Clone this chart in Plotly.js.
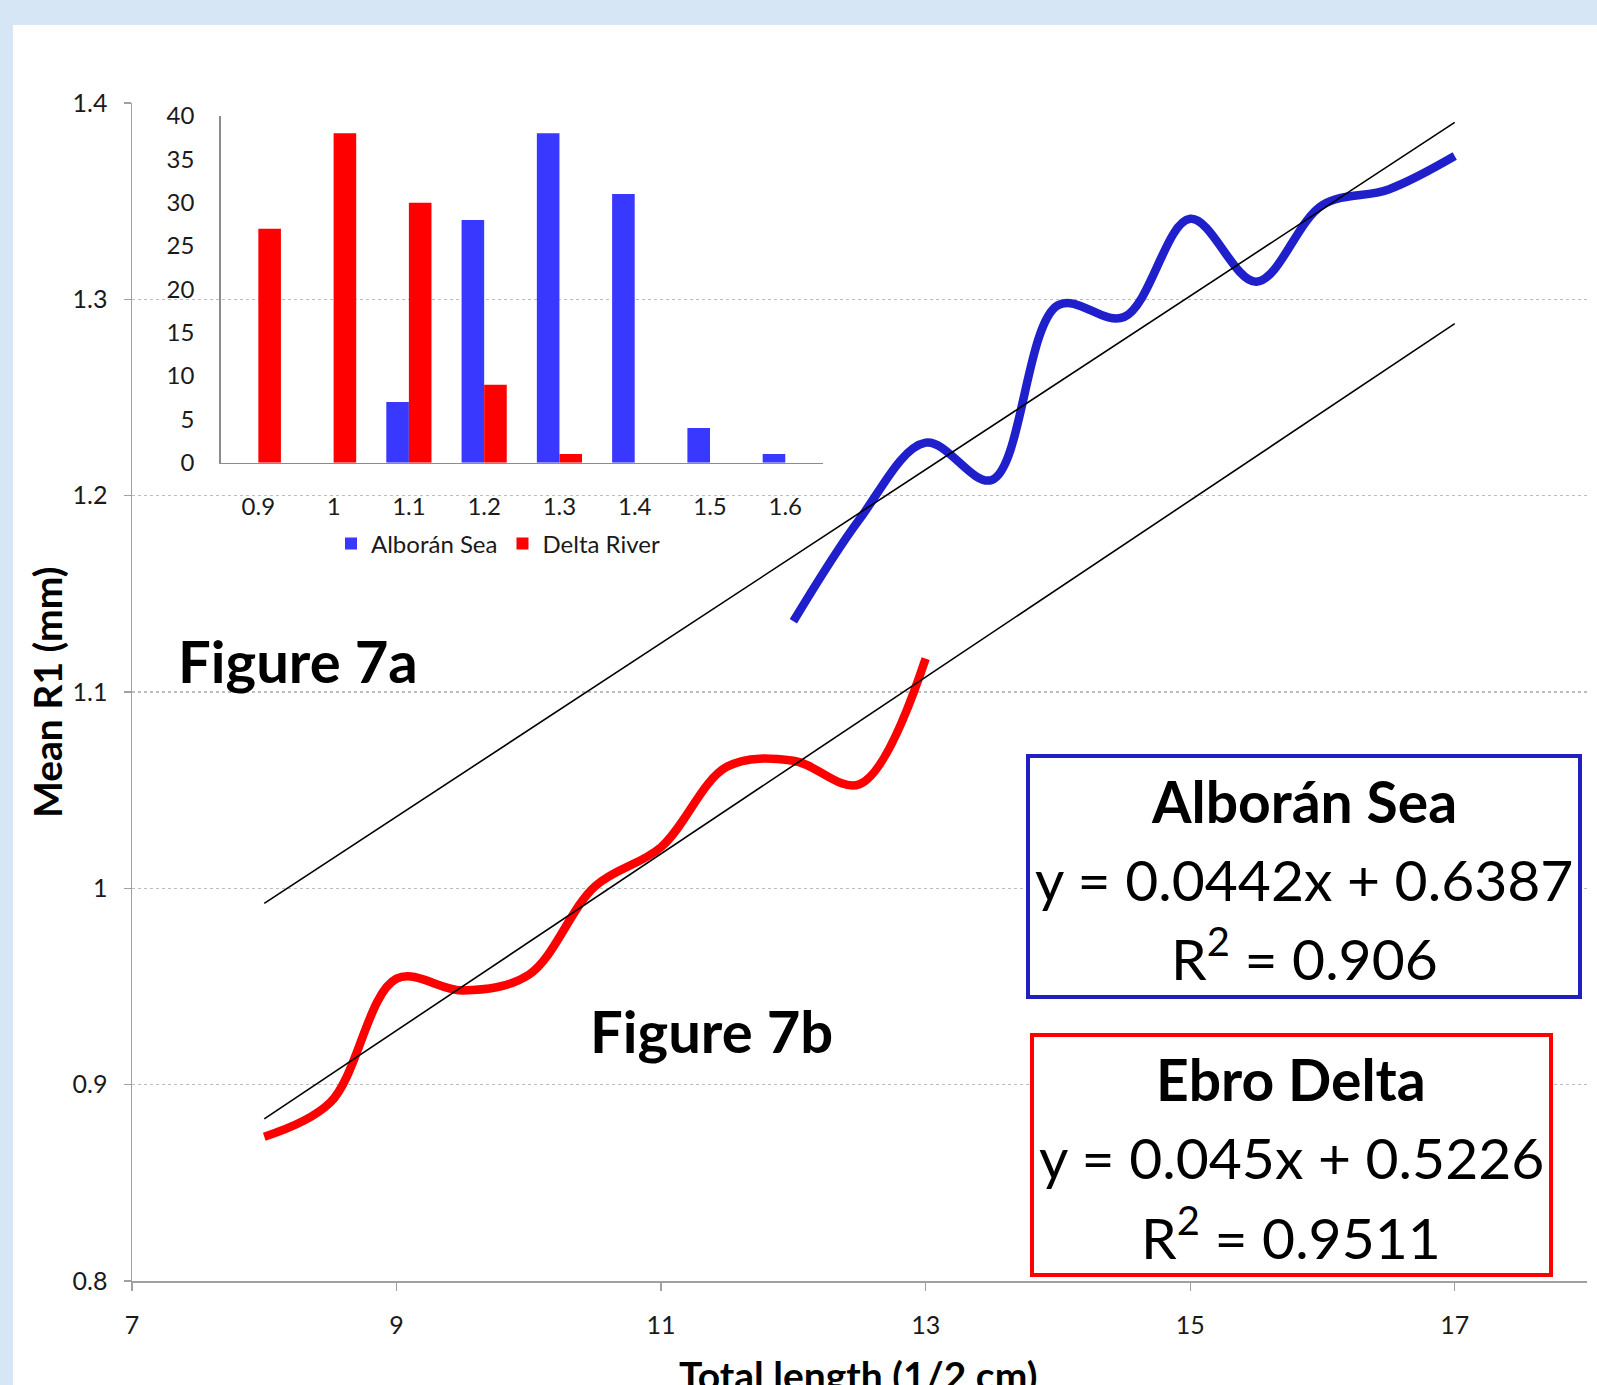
<!DOCTYPE html>
<html>
<head>
<meta charset="utf-8">
<script src="https://cdn.plot.ly/plotly-3.0.1.min.js"></script>
<style>
  html, body { margin: 0; padding: 0; }
  body { width: 1597px; height: 1385px; background: #d6e6f4; position: relative; overflow: hidden; }
  #panel { position: absolute; left: 13px; top: 25px; right: 0; bottom: 0; background: #ffffff; }
  #chart { position: absolute; left: 0; top: 0; width: 1597px; height: 1385px; }
</style>
</head>
<body>
<div id="panel"></div>
<div id="chart"></div>
<script>
// ---- Main chart data (Mean R1 vs total length) ----
const albCurveX = [12, 12.5, 13, 13.5, 14, 14.5, 15, 15.5, 16, 16.5, 17];
const albCurveY = [1.136, 1.188, 1.227, 1.208, 1.297, 1.291, 1.341, 1.309, 1.348, 1.356, 1.373];
const ebroCurveX = [8, 8.5, 9, 9.5, 10, 10.5, 11, 11.5, 12, 12.5, 13];
const ebroCurveY = [0.8735, 0.891, 0.954, 0.948, 0.956, 1.001, 1.021, 1.062, 1.065, 1.053, 1.117];

// Trendline end points
const trendX = [8, 17];
const albTrendY = [0.9923, 1.3901];
const ebroTrendY = [0.8826, 1.2876];

const xTicks = [7, 9, 11, 13, 15, 17];
const yTicks = [0.8, 0.9, 1.0, 1.1, 1.2, 1.3, 1.4];
const yTickText = ['0.8', '0.9', '1', '1.1', '1.2', '1.3', '1.4'];

// ---- Inset histogram data ----
const insetCats = ['0.9', '1', '1.1', '1.2', '1.3', '1.4', '1.5', '1.6'];
const albCounts = [0, 0, 7, 28, 38, 31, 4, 1];
const deltaCounts = [27, 38, 30, 9, 1, 0, 0, 0];
const insetYTicks = [0, 5, 10, 15, 20, 25, 30, 35, 40];

// ---- Text ----
const albName = 'Alborán Sea';
const albEq = 'y = 0.0442x + 0.6387';
const albR2 = 'R<sup>2</sup> = 0.906';
const ebroName = 'Ebro Delta';
const ebroEq = 'y = 0.045x + 0.5226';
const ebroR2 = 'R<sup>2</sup> = 0.9511';

const FONT = 'Lato, "Open Sans", sans-serif';

// geometry helpers: pixel -> paper (plot area: x 132..1587, y 103..1281)
const L = 132, R = 1587, T = 103, B = 1281;
const px = v => (v - L) / (R - L);
const py = v => (B - v) / (B - T);

const traces = [
  {
    type: 'scatter', mode: 'lines', x: ebroCurveX, y: ebroCurveY,
    line: {color: '#ff0000', width: 8.5, shape: 'spline', smoothing: 1},
    showlegend: false, xaxis: 'x', yaxis: 'y', hoverinfo: 'skip'
  },
  {
    type: 'scatter', mode: 'lines', x: albCurveX, y: albCurveY,
    line: {color: '#1f1fcc', width: 8.5, shape: 'spline', smoothing: 1},
    showlegend: false, xaxis: 'x', yaxis: 'y', hoverinfo: 'skip'
  },
  {
    type: 'scatter', mode: 'lines', x: trendX, y: albTrendY,
    line: {color: '#000000', width: 1.6},
    showlegend: false, xaxis: 'x', yaxis: 'y', hoverinfo: 'skip'
  },
  {
    type: 'scatter', mode: 'lines', x: trendX, y: ebroTrendY,
    line: {color: '#000000', width: 1.6},
    showlegend: false, xaxis: 'x', yaxis: 'y', hoverinfo: 'skip'
  },
  {
    type: 'bar', name: 'Alborán Sea', x: insetCats, y: albCounts,
    marker: {color: '#3838ff', line: {width: 0}},
    xaxis: 'x2', yaxis: 'y2'
  },
  {
    type: 'bar', name: 'Delta River', x: insetCats, y: deltaCounts,
    marker: {color: '#ff0000', line: {width: 0}},
    xaxis: 'x2', yaxis: 'y2'
  }
];

const layout = {
  width: 1597, height: 1385,
  margin: {l: L, r: 1597 - R, t: T, b: 1385 - B, pad: 0},
  paper_bgcolor: 'rgba(0,0,0,0)',
  plot_bgcolor: 'rgba(0,0,0,0)',
  font: {family: FONT, color: '#000000'},
  showlegend: true,
  barmode: 'group', bargap: 0.4, bargroupgap: 0,
  xaxis: {
    range: [7, 18], tickvals: xTicks, ticktext: xTicks.map(String),
    showgrid: false, zeroline: false,
    showline: true, linecolor: '#a0a0a0', linewidth: 2,
    ticks: 'outside', ticklen: 8, tickcolor: '#a0a0a0', tickwidth: 1.2,
    tickfont: {size: 25, family: FONT, color: '#1a1a1a'},
    ticklabelstandoff: 13
  },
  yaxis: {
    range: [0.8, 1.4], tickvals: yTicks, ticktext: yTickText,
    showgrid: true, gridcolor: '#bdbdbd', gridwidth: 1.2, griddash: 'dot',
    zeroline: false,
    showline: true, linecolor: '#a0a0a0', linewidth: 1.5,
    ticks: 'outside', ticklen: 7, tickcolor: '#a0a0a0', tickwidth: 1.2,
    tickfont: {size: 25, family: FONT, color: '#1a1a1a'},
    ticklabelstandoff: 11
  },
  xaxis2: {
    domain: [px(220.7), px(822.9)], anchor: 'y2', type: 'category',
    range: [-0.5, 7.5], showgrid: false, zeroline: false,
    showline: true, linecolor: '#8c8c8c', linewidth: 1.5,
    ticks: '', tickfont: {size: 24, family: FONT, color: '#1a1a1a'},
    ticklabelstandoff: 22
  },
  yaxis2: {
    domain: [py(462.7), py(116)], anchor: 'x2', range: [0, 40],
    tickvals: insetYTicks, showgrid: false, zeroline: false,
    showline: true, linecolor: '#8c8c8c', linewidth: 1.5,
    ticks: '', tickfont: {size: 24, family: FONT, color: '#1a1a1a'},
    ticklabelstandoff: 20
  },
  legend: {
    orientation: 'h', x: px(498), xanchor: 'center', y: py(544), yanchor: 'middle',
    font: {size: 24, family: FONT, color: '#1a1a1a'}, bgcolor: 'rgba(0,0,0,0)',
    traceorder: 'normal', itemwidth: 30
  },
  shapes: [
    {type: 'rect', xref: 'paper', yref: 'paper', x0: px(1028), x1: px(1580), y0: py(997), y1: py(756),
     line: {color: '#2020c0', width: 4}, fillcolor: '#ffffff', layer: 'above'},
    {type: 'rect', xref: 'paper', yref: 'paper', x0: px(1032), x1: px(1551), y0: py(1275), y1: py(1035),
     line: {color: '#ff0000', width: 4}, fillcolor: '#ffffff', layer: 'above'}
  ],
  annotations: [
    {text: '<b>Figure 7a</b>', xref: 'paper', yref: 'paper', x: px(298), y: py(660),
     xanchor: 'center', yanchor: 'middle', showarrow: false, font: {size: 58, family: FONT, color: '#000'}},
    {text: '<b>Figure 7b</b>', xref: 'paper', yref: 'paper', x: px(711), y: py(1030),
     xanchor: 'center', yanchor: 'middle', showarrow: false, font: {size: 58, family: FONT, color: '#000'}},
    {text: '<b>' + albName + '</b>', xref: 'paper', yref: 'paper', x: px(1304), y: py(801),
     xanchor: 'center', yanchor: 'middle', showarrow: false, font: {size: 57, family: FONT, color: '#000'}},
    {text: albEq, xref: 'paper', yref: 'paper', x: px(1304), y: py(879),
     xanchor: 'center', yanchor: 'middle', showarrow: false, font: {size: 57, family: FONT, color: '#000'}},
    {text: albR2, xref: 'paper', yref: 'paper', x: px(1304), y: py(955),
     xanchor: 'center', yanchor: 'middle', showarrow: false, font: {size: 57, family: FONT, color: '#000'}},
    {text: '<b>' + ebroName + '</b>', xref: 'paper', yref: 'paper', x: px(1291), y: py(1079),
     xanchor: 'center', yanchor: 'middle', showarrow: false, font: {size: 57, family: FONT, color: '#000'}},
    {text: ebroEq, xref: 'paper', yref: 'paper', x: px(1291), y: py(1157),
     xanchor: 'center', yanchor: 'middle', showarrow: false, font: {size: 57, family: FONT, color: '#000'}},
    {text: ebroR2, xref: 'paper', yref: 'paper', x: px(1291), y: py(1233),
     xanchor: 'center', yanchor: 'middle', showarrow: false, font: {size: 57, family: FONT, color: '#000'}},
    {text: '<b>Mean R1 (mm)</b>', xref: 'paper', yref: 'paper', x: px(47), y: py(693),
     xanchor: 'center', yanchor: 'middle', textangle: -90, showarrow: false,
     font: {size: 39, family: FONT, color: '#000'}},
    {text: '<b>Total length (1/2 cm)</b>', xref: 'paper', yref: 'paper', x: px(858), y: py(1375),
     xanchor: 'center', yanchor: 'middle', showarrow: false,
     font: {size: 39, family: FONT, color: '#000'}}
  ]
};

Plotly.newPlot('chart', traces, layout, {staticPlot: true, displayModeBar: false});
</script>
</body>
</html>
